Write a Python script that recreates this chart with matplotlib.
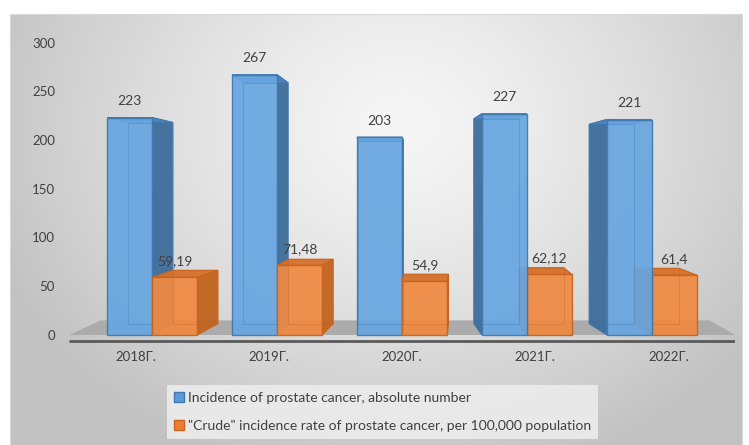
import numpy as np
import matplotlib
matplotlib.use("Agg")
import matplotlib.pyplot as plt
from matplotlib.patches import Polygon, Patch

plt.rcParams['font.family'] = ['Lato', 'DejaVu Sans']

categories = ["2018Г.", "2019Г.", "2020Г.", "2021Г.", "2022Г."]
absolute = [223, 267, 203, 227, 221]
crude = [59.19, 71.48, 54.9, 62.12, 61.4]
absolute_labels = ["223", "267", "203", "227", "221"]
crude_labels = ["59,19", "71,48", "54,9", "62,12", "61,4"]
legend_labels = ["Incidence of prostate cancer, absolute number",
                 "\"Crude\" incidence rate of prostate cancer, per 100,000 population"]
yticks = [0, 50, 100, 150, 200, 250, 300]

W, H = 749, 445
fig = plt.figure(figsize=(W / 100, H / 100), dpi=100)
fig.patch.set_facecolor('white')

# background gradient panel
bg = fig.add_axes([10 / W, 0, 732 / W, 431 / H])
yy, xx = np.mgrid[0:431, 0:732]
r = np.sqrt(((xx - 390) / 430.0) ** 2 + ((yy - 110) / 360.0) ** 2)
val = np.clip(0.965 - 0.2 * r ** 1.3, 0.76, 0.97)
bg.imshow(np.dstack([val, val, val]), aspect='auto', extent=[0, 1, 0, 1])
bg.set_xticks([]); bg.set_yticks([])
for s in bg.spines.values():
    s.set_color('#d9d9d9'); s.set_linewidth(0.8)
bg.set_zorder(-10)

# main axes
px = 0.975  # pixels per unit
ytop = (335 - 30) / px
ybot = -(348 - 335) / px
ax = fig.add_axes([69 / W, (H - 348) / H, 666 / W, (348 - 30) / H])
ax.patch.set_alpha(0)
ax.set_xlim(-0.5, 4.5)
ax.set_ylim(ybot, ytop)
for s in ax.spines.values():
    s.set_visible(False)
ax.set_yticks(yticks)
ax.set_yticklabels([str(t) for t in yticks])
ax.set_xticks(range(len(categories)))
ax.set_xticklabels(categories)
ax.tick_params(axis='both', length=0, labelsize=9.5, labelcolor='#404040')
ax.tick_params(axis='y', pad=10)
ax.tick_params(axis='x', pad=2)

# floor
floor = Polygon([(-0.5, 0), (4.5, 0), (4.31, 15), (-0.26, 15)], closed=True,
                facecolor='#ababab', edgecolor='none', zorder=1)
ax.add_patch(floor)
ax.plot([-0.5, 4.5], [-6, -6], color='#5a5a5a', lw=2, zorder=2, solid_capstyle='butt')

w = 0.338
blue = dict(front='#68a6e0', side='#3d6d9a', top='#4f86bd', edge='#3f78b0')
orange = dict(front='#f08a42', side='#c2641f', top='#d5702a', edge='#c9621c')


def bar3d(x0, x1, v, dx, col, z):
    dyt = (155 - v) * 0.073 / px
    dyb = 155 * 0.073 / px
    if dx >= 0:
        side = [(x1, 0), (x1, v), (x1 + dx, v + dyt), (x1 + dx, dyb)]
    else:
        side = [(x0, 0), (x0, v), (x0 + dx, v + dyt), (x0 + dx, dyb)]
    ax.add_patch(Polygon(side, closed=True, facecolor=col['side'], edgecolor=col['edge'],
                         lw=0.8, alpha=0.95, zorder=z))
    top = [(x0, v), (x1, v), (x1 + dx, v + dyt), (x0 + dx, v + dyt)]
    ax.add_patch(Polygon(top, closed=True, facecolor=col['top'], edgecolor=col['edge'],
                         lw=0.8, alpha=0.95, zorder=z + 0.1))
    ax.bar([(x0 + x1) / 2], [v], width=x1 - x0, bottom=0, color=col['front'],
           edgecolor=col['edge'], lw=1.0, alpha=0.93, zorder=z + 0.2)
    # faint back edges seen through the translucent front
    bx = [x0 + dx, x1 + dx, x1 + dx, x0 + dx, x0 + dx]
    by = [dyb, dyb, v + dyt, v + dyt, dyb]
    ax.plot(bx, by, color=col['edge'], lw=0.7, alpha=0.35, zorder=z + 0.3)


for i in range(len(categories)):
    off = (2 - i) * 0.062
    dx = (2.15 - i) * 0.072
    bx0, bx1 = i + off - w, i + off
    ox0, ox1 = i + off, i + off + w
    if i <= 2:
        zb, zo = 3, 4
    else:
        zb, zo = 4, 3
    bar3d(bx0, bx1, absolute[i], dx, blue, zb)
    bar3d(ox0, ox1, crude[i], dx, orange, zo)
    ax.text((bx0 + bx1) / 2, absolute[i] + 10.5, absolute_labels[i], ha='center', va='bottom',
            fontsize=10, color='#404040', zorder=10)
    ax.text((ox0 + ox1) / 2, crude[i] + 10.5, crude_labels[i], ha='center', va='bottom',
            fontsize=10, color='#404040', zorder=10)

handles = [Patch(facecolor='#5b9bd5', edgecolor='#3f78b0'),
           Patch(facecolor='#ed7d31', edgecolor='#c9621c')]
leg = fig.legend(handles, legend_labels, loc='upper left',
                 bbox_to_anchor=(167 / W, 1 - 385 / H), frameon=True,
                 fontsize=10, handlelength=0.7, handleheight=0.7, handletextpad=0.3,
                 labelspacing=1.15, borderpad=0.5, borderaxespad=0)
leg.get_frame().set_facecolor('#ececec')
leg.get_frame().set_edgecolor('none')
leg.get_frame().set_alpha(0.9)
leg.get_frame().set_boxstyle('square', pad=0)
for t in leg.get_texts():
    t.set_color('#404040')

fig.savefig('out.png', dpi=100)
